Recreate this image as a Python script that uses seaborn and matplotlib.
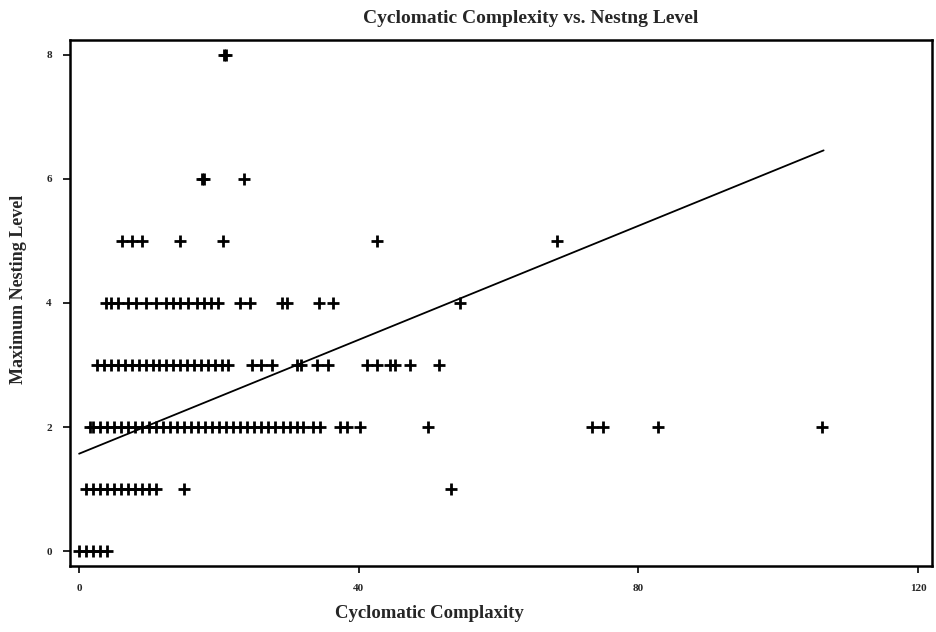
import matplotlib
matplotlib.use("Agg")
import matplotlib.pyplot as plt
import seaborn as sns
import pandas as pd

# Data: cyclomatic complexity values for each maximum nesting level
level0_x = [0, 1, 2, 3, 4]
level1_x = [1, 2, 3, 4, 5, 6, 7, 8, 9, 10, 11, 15, 53.2]
level2_x = [1.5, 2, 3, 4, 5, 6, 7, 8, 9, 10, 11, 12, 13, 14, 15, 16, 17, 18, 19,
            20, 21, 22, 23, 24, 25, 26, 27, 28, 29.2, 30.2, 31.2, 32, 33.5, 34.5,
            37.3, 38.3, 40.2, 49.9, 73.4, 75, 82.8, 106.2]
level3_x = [2.5, 3.5, 4.5, 5.5, 6.5, 7.5, 8.5, 9.5, 10.5, 11.5, 12.5, 13.5, 14.5,
            15.5, 16.5, 17.5, 18.5, 19.5, 20.5, 21.3, 24.7, 26, 27.6, 31.2, 31.8,
            34, 35.6, 41.2, 42.6, 44.5, 45.2, 47.4, 51.5]
level4_x = [3.8, 4.6, 5.5, 7, 8.2, 9.6, 11, 12.5, 13.5, 14.4, 15.6, 16.8, 17.8,
            18.8, 19.9, 23, 24.5, 29, 29.8, 34.3, 36.3, 54.5]
level5_x = [6.2, 7.5, 9, 14.4, 20.6, 42.6, 68.4]
level6_x = [17.6, 17.9, 23.6]
level8_x = [20.7, 21.0]

levels = [0, 1, 2, 3, 4, 5, 6, 8]
xs_by_level = [level0_x, level1_x, level2_x, level3_x, level4_x, level5_x,
               level6_x, level8_x]

# Fitted line
fit_intercept = 1.57
fit_slope = 0.0459
fit_x = [0, 106.5]

x_ticks = [0, 40, 80, 120]
y_ticks = [0, 2, 4, 6, 8]

rows = []
for lvl, xs in zip(levels, xs_by_level):
    for v in xs:
        rows.append({"cc": v, "nest": lvl})
df = pd.DataFrame(rows)
line_df = pd.DataFrame({"cc": fit_x,
                        "nest": [fit_intercept + fit_slope * v for v in fit_x]})

sns.set_theme(style="white")
plt.rcParams["font.family"] = ["Liberation Serif", "DejaVu Serif"]

fig = plt.figure(figsize=(9.36, 6.32), dpi=100)
ax = fig.add_axes([0.0748, 0.1044, 0.9209, 0.8326])

sns.scatterplot(data=df, x="cc", y="nest", marker="+", s=70, color="black",
                linewidth=2.0, ax=ax, legend=False)
sns.lineplot(data=line_df, x="cc", y="nest", color="black", linewidth=1.3,
             ax=ax, legend=False)

ax.set_xlim(-1.3, 122)
ax.set_ylim(-0.24, 8.24)
ax.set_xticks(x_ticks)
ax.set_yticks(y_ticks)
ax.set_xticklabels([str(t) for t in x_ticks], fontsize=8, fontweight="bold")
ax.set_yticklabels([str(t) for t in y_ticks], fontsize=8, fontweight="bold")
ax.tick_params(axis="both", which="both", direction="out", length=5, width=1.2,
               color="black", bottom=True, left=True, pad=8)
for sp in ax.spines.values():
    sp.set_color("black")
    sp.set_linewidth(1.8)

ax.set_xlabel("Cyclomatic Complaxity", fontsize=13.5, fontweight="bold")
ax.xaxis.set_label_coords(0.4165, -0.075)
ax.set_ylabel("Maximum Nesting Level", fontsize=13, fontweight="bold")
ax.yaxis.set_label_coords(-0.05, 0.525)
ax.set_title("Cyclomatic Complexity vs. Nestng Level", fontsize=14,
             fontweight="bold", x=0.534, pad=12)

fig.savefig("out.png", dpi=100)
